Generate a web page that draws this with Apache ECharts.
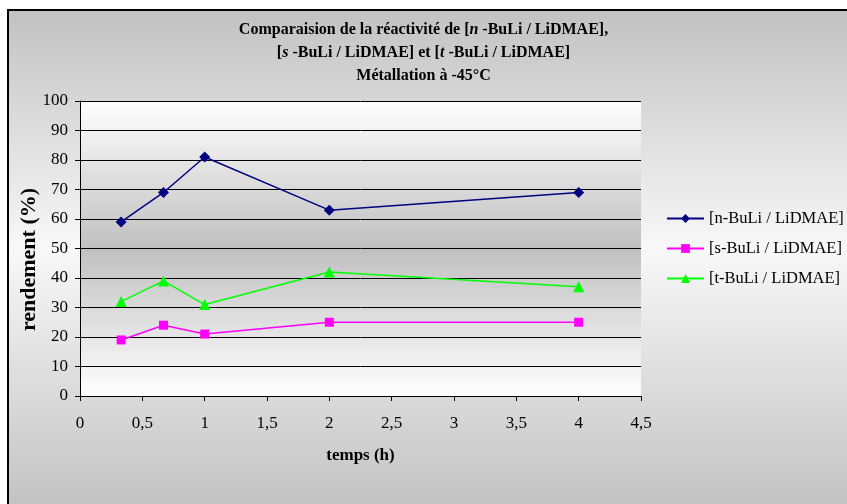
<!DOCTYPE html>
<html>
<head>
<meta charset="utf-8">
<style>
  html, body { margin: 0; padding: 0; background: #fff; }
  #chart { width: 847px; height: 504px; }
</style>
<script src="https://cdn.jsdelivr.net/npm/echarts@6/dist/echarts.min.js"></script>
</head>
<body>
<div id="chart"></div>
<script>
// temps (h)
var temps = [0.33, 0.67, 1, 2, 4]
// rendement (%)
var nBuLi = [59, 69, 81, 63, 69]
var sBuLi = [19, 24, 21, 25, 25]
var tBuLi = [32, 39, 31, 42, 37]
var seriesNames = ['[n-BuLi / LiDMAE]', '[s-BuLi / LiDMAE]', '[t-BuLi / LiDMAE]']

function pairs(ys) {
  return temps.map(function (x, i) { return [x, ys[i]] })
}

var serif = '"Liberation Serif", "Times New Roman", serif'
var chart = echarts.init(document.getElementById('chart'))

chart.setOption({
  animation: false,
  textStyle: { fontFamily: serif },
  graphic: {
    elements: [{
      type: 'rect',
      z: -100,
      shape: { x: 8, y: 10, width: 860, height: 500 },
      style: {
        fill: new echarts.graphic.LinearGradient(0, 0, 0, 1, [
          { offset: 0, color: '#c2c2c2' },
          { offset: 0.48, color: '#f8f8f8' },
          { offset: 1, color: '#c2c2c2' }
        ]),
        stroke: '#000',
        lineWidth: 2
      }
    }]
  },
  title: {
    left: 'center',
    top: 13,
    text: '{b|Comparaision de la réactivité de [}{i|n}{b| -BuLi / LiDMAE],}\n' +
      '{b|[}{i|s}{b| -BuLi / LiDMAE] et [}{i|t}{b| -BuLi / LiDMAE]}\n' +
      '{b|Métallation à -45°C}',
    textStyle: {
      rich: {
        b: { fontFamily: serif, fontWeight: 'bold', fontSize: 16, color: '#000', lineHeight: 23 },
        i: { fontFamily: serif, fontWeight: 'bold', fontStyle: 'italic', fontSize: 16, color: '#000', lineHeight: 23 }
      }
    }
  },
  grid: {
    left: 80,
    right: 206,
    top: 101,
    bottom: 108,
    show: true,
    borderWidth: 0,
    backgroundColor: new echarts.graphic.LinearGradient(0, 0, 0, 1, [
      { offset: 0, color: '#ffffff' },
      { offset: 0.5, color: '#c0c0c0' },
      { offset: 1, color: '#ffffff' }
    ])
  },
  legend: {
    orient: 'vertical',
    left: 661,
    top: 205,
    itemGap: 13,
    itemWidth: 37,
    itemHeight: 11,
    data: seriesNames,
    textStyle: { fontFamily: serif, fontSize: 16.5, color: '#000' }
  },
  xAxis: {
    type: 'value',
    min: 0,
    max: 4.5,
    interval: 0.5,
    name: 'temps (h)',
    nameLocation: 'middle',
    nameGap: 51,
    nameMoveOverlap: false,
    nameTextStyle: { fontFamily: serif, fontWeight: 'bold', fontSize: 17, color: '#000' },
    axisLine: { show: true, onZero: false, lineStyle: { color: '#000', width: 1 } },
    axisTick: { show: true, inside: false, length: 5, lineStyle: { color: '#000' } },
    axisLabel: {
      margin: 19,
      fontFamily: serif,
      fontSize: 17,
      color: '#000',
      formatter: function (v) { return String(v).replace('.', ',') }
    },
    splitLine: { show: false }
  },
  yAxis: {
    type: 'value',
    min: 0,
    max: 100,
    interval: 10,
    name: 'rendement (%)',
    nameLocation: 'middle',
    nameGap: 40,
    nameMoveOverlap: false,
    nameTextStyle: { fontFamily: serif, fontWeight: 'bold', fontSize: 22, color: '#000', padding: [0, 22, 0, 0] },
    axisLine: { show: true, lineStyle: { color: '#000', width: 1 } },
    axisTick: { show: true, inside: false, length: 5, lineStyle: { color: '#000' } },
    axisLabel: { margin: 12, fontFamily: serif, fontSize: 17, color: '#000' },
    splitLine: { show: true, lineStyle: { color: '#000', width: 1 } }
  },
  series: [{
    name: seriesNames[0],
    type: 'line',
    data: pairs(nBuLi),
    symbol: 'diamond',
    symbolSize: 11,
    lineStyle: { color: '#000080', width: 1.5 },
    itemStyle: { color: '#000080' }
  }, {
    name: seriesNames[1],
    type: 'line',
    data: pairs(sBuLi),
    symbol: 'rect',
    symbolSize: 9,
    lineStyle: { color: '#ff00ff', width: 1.5 },
    itemStyle: { color: '#ff00ff' }
  }, {
    name: seriesNames[2],
    type: 'line',
    data: pairs(tBuLi),
    symbol: 'triangle',
    symbolSize: 11,
    lineStyle: { color: '#00ff00', width: 1.5 },
    itemStyle: { color: '#00ff00' }
  }]
})
</script>
</body>
</html>
